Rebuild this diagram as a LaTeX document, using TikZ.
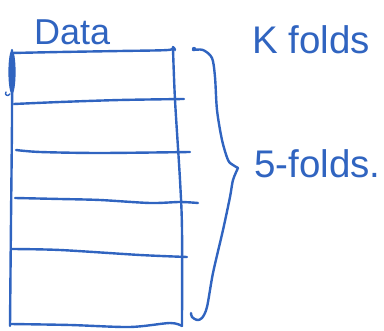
\documentclass[tikz,border=0pt]{standalone}
\usepackage{fontspec}
\setmainfont{Liberation Sans}
\definecolor{ink}{RGB}{48,100,192}
\begin{document}
\begin{tikzpicture}[x=1pt,y=-1pt,
  pen/.style={draw=ink,line width=2.4pt,line cap=round,line join=round},
  hand/.style={text=ink,inner sep=0pt,font=\fontsize{36}{40}\selectfont},
  handbig/.style={hand,font=\fontsize{38.5}{42}\selectfont}]
\useasboundingbox (0,0) rectangle (384,331);
% texts
\node[hand,anchor=base west] (data) at (34,45) {Data};
\node[handbig,anchor=base west] (kfolds) at (252,54) {K folds};
\node[handbig,anchor=base west] (fivefolds) at (254,178) {5-folds.};
% table frame
\draw[pen] plot[smooth] coordinates {(12,50) (12,120) (11,220) (10,326)};
\draw[pen] plot[smooth] coordinates {(12,53) (60,52) (120,51) (168,50) (173,47) (175,50)};
\draw[pen] plot[smooth] coordinates {(173,49) (175,100) (180,180) (182,230) (182,326)};
\draw[pen] plot[smooth] coordinates {(10,324) (70,325) (130,327) (170,323) (182,326)};
% row lines
\draw[pen] plot[smooth] coordinates {(14,104) (60,102) (120,100) (184,99)};
\draw[pen] plot[smooth] coordinates {(16,150) (40,152) (100,153) (190,152)};
\draw[pen] plot[smooth] coordinates {(15,198) (60,199) (100,200) (150,203) (180,202) (198,203)};
\draw[pen] plot[smooth] coordinates {(11,249) (60,250) (140,255) (187,257)};
% pen blob on left
\fill[ink] (12,72) ellipse [x radius=3.6pt, y radius=22pt];
\draw[pen,line width=1.4pt] (6,92) .. controls (4,95) and (8,97) .. (10,94);
% brace
\fill[ink] (194,49) circle [radius=2.2pt];
\draw[pen] plot[smooth] coordinates {(193,50) (203,50) (212,58) (215,77) (217,110) (222,140) (228,160) (233,165) (238,168)};
\draw[pen] plot[smooth] coordinates {(238,168) (233,180) (230,197) (223,230) (213,273) (207,307) (202,318) (197,320) (192,317) (191,313)};
\end{tikzpicture}
\end{document}
